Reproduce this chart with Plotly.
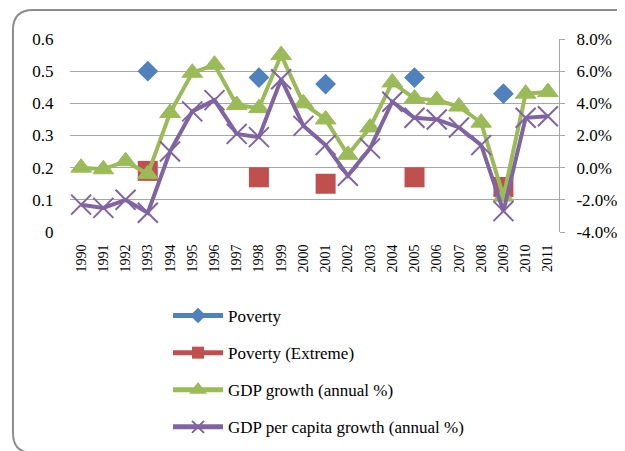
"""Poverty vs GDP growth, Excel style combo chart."""
import plotly.graph_objects as go

years = list(range(1990, 2012))

# poverty headcount, only surveyed years (left axis)
poverty = [None, None, None, 0.50, None, None, None, None, 0.48, None, None,
           0.46, None, None, None, 0.48, None, None, None, 0.43, None, None]
poverty_extreme = [None, None, None, 0.19, None, None, None, None, 0.17, None,
                   None, 0.15, None, None, None, 0.17, None, None, None, 0.14,
                   None, None]

# growth rates in % (right axis)
gdp_growth = [0.0, -0.1, 0.4, -0.4, 3.4, 5.9, 6.4, 3.9, 3.7, 7.0, 4.0,
              3.0, 0.8, 2.5, 5.3, 4.3, 4.2, 3.8, 2.8, -1.8, 4.6, 4.7]
gdp_pc_growth = [-2.3, -2.5, -2.0, -2.8, 1.0, 3.5, 4.2, 2.1, 1.9, 5.5, 2.6,
                 1.4, -0.5, 1.2, 4.1, 3.1, 3.0, 2.5, 1.4, -2.7, 3.1, 3.2]

left_ticks = [0, 0.1, 0.2, 0.3, 0.4, 0.5, 0.6]
right_ticks = [-4, -2, 0, 2, 4, 6, 8]
right_labels = ["-4.0%", "-2.0%", "0.0%", "2.0%", "4.0%", "6.0%", "8.0%"]

# page body has an 8px margin, so the figure is shrunk by that much
PAD = 8
W, H = 625 - PAD, 451 - PAD
L, R, T, B = 70 - PAD, 559 - PAD, 39 - PAD, 232 - PAD
FONT = "Liberation Serif"
GRID = "#a6a6a6"


def px2paper(x, y):
    # x, y given in window pixels
    return (x - PAD - L) / (R - L), (B - (y - PAD)) / (B - T)


def rounded_frame(x0, y0, x1, y1, r):
    pts = [("M", x0 + r, y0), ("L", x1 - r, y0), ("Q", x1, y0, x1, y0 + r),
           ("L", x1, y1 - r), ("Q", x1, y1, x1 - r, y1), ("L", x0 + r, y1),
           ("Q", x0, y1, x0, y1 - r), ("L", x0, y0 + r),
           ("Q", x0, y0, x0 + r, y0)]
    parts = []
    for p in pts:
        cmd, coords = p[0], p[1:]
        xy = []
        for i in range(0, len(coords), 2):
            xp, yp = px2paper(coords[i], coords[i + 1])
            xy.append(f"{xp:.4f},{yp:.4f}")
        parts.append(cmd + " ".join(xy))
    return " ".join(parts) + " Z"


fig = go.Figure()
fig.add_trace(go.Scatter(
    x=years, y=poverty, name="Poverty", mode="lines+markers",
    legendgroup="a", yaxis="y",
    line=dict(color="#4f81bd", width=4),
    marker=dict(symbol="diamond", size=16, color="#4f81bd")))
fig.add_trace(go.Scatter(
    x=years, y=poverty_extreme, name="Poverty (Extreme)",
    mode="lines+markers", legendgroup="b", yaxis="y",
    line=dict(color="#c0504d", width=4),
    marker=dict(symbol="square", size=20, color="#c0504d")))
fig.add_trace(go.Scatter(
    x=years, y=gdp_growth, name="GDP growth (annual %)",
    mode="lines+markers", legendgroup="c", yaxis="y2",
    line=dict(color="#9bbb59", width=4),
    marker=dict(symbol="triangle-up", size=18, color="#9bbb59",
                line=dict(color="#9bbb59", width=1))))
fig.add_trace(go.Scatter(
    x=years, y=gdp_pc_growth, name="GDP per capita growth (annual %)",
    mode="lines+markers", legendgroup="d", yaxis="y2",
    line=dict(color="#8064a2", width=4),
    marker=dict(symbol="x-thin", size=20,
                line=dict(color="#8064a2", width=2))))

fig.add_shape(type="path", xref="paper", yref="paper",
              path=rounded_frame(13, 10, 640, 453, 20),
              line=dict(color="#8c8c8c", width=2), layer="below")

fig.update_layout(
    width=W, height=H, autosize=False,
    margin=dict(l=L, r=W - R, t=T, b=H - B, autoexpand=False),
    paper_bgcolor="white", plot_bgcolor="white",
    font=dict(family=FONT, color="black", size=16),
    xaxis=dict(range=[1989.5, 2011.5], tickvals=years, tickangle=-90,
               tickfont=dict(size=14), showgrid=False, zeroline=False,
               showline=False, ticks="outside", ticklen=6,
               tickcolor="rgba(0,0,0,0)"),
    yaxis=dict(range=[0, 0.6], tickvals=left_ticks, showgrid=True,
               gridcolor=GRID, gridwidth=1, zeroline=False, showline=False,
               ticks="outside", ticklen=12, tickcolor="rgba(0,0,0,0)",
               tickfont=dict(size=17)),
    yaxis2=dict(range=[-4, 8], tickvals=right_ticks, ticktext=right_labels,
                overlaying="y", side="right",
                showgrid=False, zeroline=False, showline=True,
                linecolor=GRID, linewidth=1, ticks="outside", ticklen=5,
                tickcolor=GRID, ticklabelstandoff=8,
                tickfont=dict(size=17)),
    showlegend=True,
    legend=dict(x=px2paper(168, 0)[0], y=px2paper(0, 298)[1],
                xanchor="left", yanchor="top", orientation="v",
                font=dict(size=17, family=FONT), tracegroupgap=12,
                itemwidth=50, itemsizing="constant",
                bgcolor="rgba(0,0,0,0)"),
)

fig.write_html("out.html")
